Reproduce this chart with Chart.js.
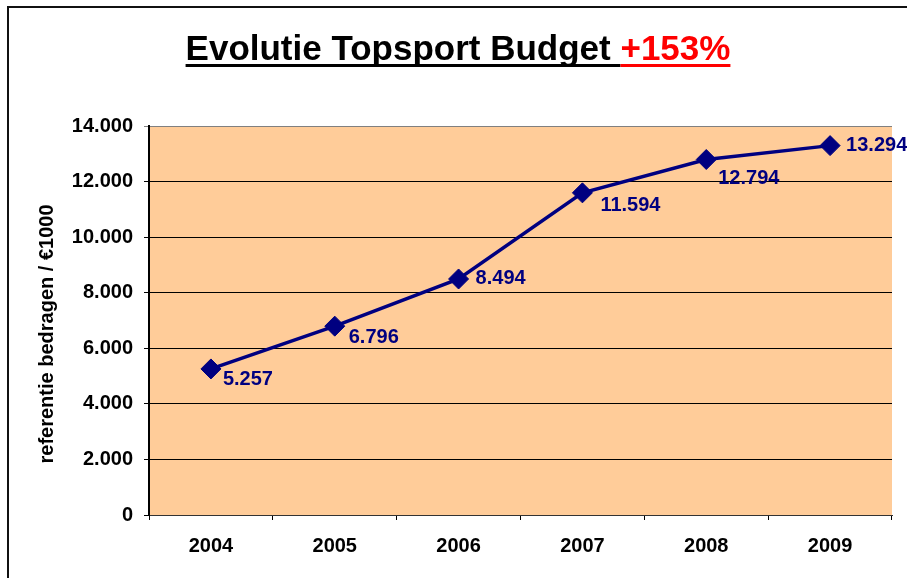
<!DOCTYPE html>
<html>
<head>
<meta charset="utf-8">
<script src="https://cdn.jsdelivr.net/npm/chart.js"></script>
<style>
    html, body { margin: 0; padding: 0; background: #fff; }
    #wrap { width: 907px; height: 578px; }
</style>
</head>
<body>
<div id="wrap"><canvas id="graph"></canvas></div>
<script>
// data
const years = ["2004", "2005", "2006", "2007", "2008", "2009"];
const budget = [5257, 6796, 8494, 11594, 12794, 13294];
const yTicks = [0, 2000, 4000, 6000, 8000, 10000, 12000, 14000];

const navy = "#000080";
const font = "'Liberation Sans', Arial, sans-serif";

// label nudges per point (label placement, not data)
const labelDx = [12, 14, 17, 18, 12, 16];
const labelDy = [11, 11, -1, 13, 19, 0];

function dotted(v)
{
    return String(v).replace(/\B(?=(\d{3})+(?!\d))/g, ".");
}

// frame, title and y axis title
const decorations = {
    id: "decorations",
    afterDraw(chart)
    {
        const c = chart.ctx;
        c.save();
        c.strokeStyle = "#111";
        c.lineWidth = 2;
        c.beginPath();
        c.moveTo(8, 578);
        c.lineTo(8, 7);
        c.lineTo(907, 7);
        c.stroke();

        c.font = "bold 35px " + font;
        c.textBaseline = "alphabetic";
        const part1 = "Evolutie Topsport Budget ";
        const part2 = "+153%";
        const w1 = c.measureText(part1).width;
        const w2 = c.measureText(part2).width;
        const x0 = 458 - (w1 + w2) / 2;
        c.fillStyle = "#000";
        c.fillText(part1, x0, 60);
        c.fillRect(x0, 64, w1, 3);
        c.fillStyle = "#ff0000";
        c.fillText(part2, x0 + w1, 60);
        c.fillRect(x0 + w1, 64, w2, 3);

        c.translate(47, 334);
        c.rotate(-Math.PI / 2);
        c.fillStyle = "#000";
        c.font = "bold 20px " + font;
        c.textAlign = "center";
        c.textBaseline = "middle";
        c.fillText("referentie bedragen / \u20ac1000", 0, 0);
        c.restore();
    }
};

const pointLabels = {
    id: "pointLabels",
    afterDatasetsDraw(chart)
    {
        const c = chart.ctx;
        const meta = chart.getDatasetMeta(0);
        c.save();
        c.fillStyle = navy;
        c.font = "bold 20px " + font;
        c.textAlign = "left";
        c.textBaseline = "middle";
        meta.data.forEach((pt, i) => {
            c.fillText(dotted(budget[i]), pt.x + labelDx[i], pt.y + labelDy[i]);
        });
        c.restore();
    }
};

// plot area background
const plotBg = {
    id: "plotBg",
    beforeDraw(chart)
    {
        const a = chart.chartArea;
        const c = chart.ctx;
        c.save();
        c.fillStyle = "#ffcc99";
        c.fillRect(a.left, a.top, a.right - a.left, a.bottom - a.top);
        c.restore();
    }
};

const ctx = document.getElementById("graph");
new Chart(ctx, {
    type: "line",
    data: {
        labels: years,
        datasets: [
            {
                data: budget,
                borderColor: navy,
                backgroundColor: navy,
                borderWidth: 3.5,
                pointStyle: "rectRot",
                pointRadius: 10,
                pointBorderWidth: 1,
                tension: 0,
                clip: false
            }
        ]
    },
    options: {
        responsive: true,
        maintainAspectRatio: false,
        animation: false,
        layout: { padding: { left: 0, top: 126, right: 15, bottom: 0 } },
        plugins: {
            legend: { display: false },
            tooltip: { enabled: false },
            title: { display: false }
        },
        scales: {
            x: {
                offset: true,
                afterFit(scale) { scale.height = 63; },
                grid: {
                    offset: true,
                    drawOnChartArea: false,
                    drawTicks: true,
                    tickLength: 5,
                    color: "#000"
                },
                border: { display: true, color: "#333", width: 1 },
                ticks: {
                    color: "#000",
                    padding: 14,
                    font: { family: font, size: 20, weight: "bold" }
                }
            },
            y: {
                min: 0,
                max: 14000,
                afterFit(scale) { scale.width = 149; },
                afterBuildTicks(scale) { scale.ticks = yTicks.map(v => ({ value: v })); },
                grid: {
                    color: (c) => (c.tick && c.tick.value === 14000 ? "#808080" : "#000"),
                    lineWidth: 1,
                    drawTicks: true,
                    tickLength: 5
                },
                border: { display: true, color: "#000", width: 2 },
                ticks: {
                    color: "#000",
                    padding: 11,
                    font: { family: font, size: 20, weight: "bold" },
                    callback: (v) => dotted(v)
                }
            }
        }
    },
    plugins: [plotBg, pointLabels, decorations]
});
</script>
</body>
</html>
